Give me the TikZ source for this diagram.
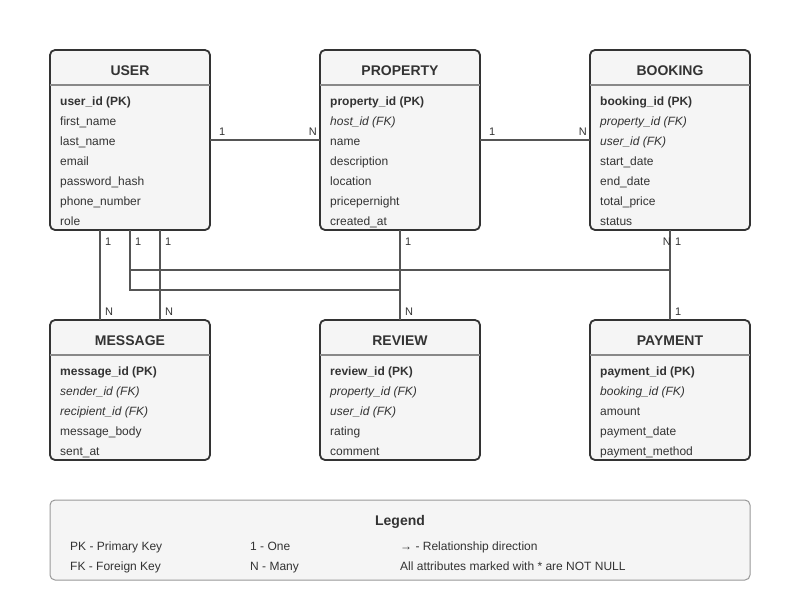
\documentclass[tikz,border=0pt]{standalone}
\usepackage{fontspec}
\setmainfont{Liberation Sans}
\definecolor{boxline}{HTML}{333333}
\definecolor{boxfill}{HTML}{F5F5F5}
\definecolor{sepline}{HTML}{888888}
\definecolor{txt}{HTML}{333333}
\definecolor{relline}{HTML}{555555}
\definecolor{legline}{HTML}{999999}
\newcommand{\erbox}[5]{%
  \node[ebox, minimum height=#4] (#1) at (#2,{#3+#4/2}) {};
  \node[etitle, anchor=base] (#1-t) at (#2,#3+25) {#5};
  \draw[esep] (#1.west |- 0,#3+35) -- (#1.east |- 0,#3+35);
}
\begin{document}
\begin{tikzpicture}[x=1pt,y=-1pt,
  ebox/.style={draw=boxline, line width=1.8pt, fill=boxfill, rounded corners=5pt,
    minimum width=160pt, inner sep=0pt, outer sep=0pt},
  etitle/.style={font=\fontsize{14}{16}\selectfont\bfseries, text=txt, inner sep=0pt},
  esep/.style={draw=sepline, line width=1.8pt},
  attr/.style={font=\fontsize{12}{14}\selectfont, text=txt, anchor=base west, inner sep=0pt},
  card/.style={font=\fontsize{11}{13}\selectfont, text=txt, inner sep=0pt},
  rel/.style={draw=relline, line width=1.5pt},
  legbox/.style={draw=legline, line width=1pt, fill=boxfill, rounded corners=5pt,
    minimum width=700pt, minimum height=80pt, inner sep=0pt, outer sep=0pt},
  legtxt/.style={font=\fontsize{12}{14}\selectfont, text=txt, anchor=base west, inner sep=0pt}
]
\useasboundingbox (0,0) rectangle (800,600);
\fill[white] (0,0) rectangle (800,600);

% boxes
\erbox{user}{130}{50}{180}{USER}
\erbox{property}{400}{50}{180}{PROPERTY}
\erbox{booking}{670}{50}{180}{BOOKING}
\erbox{message}{130}{320}{140}{MESSAGE}
\erbox{review}{400}{320}{140}{REVIEW}
\erbox{payment}{670}{320}{140}{PAYMENT}

% connectors
\draw[rel] (user.east) -- (property.west);
\draw[rel] (property.east) -- (booking.west);
\draw[rel] ([xshift=-30pt]user.south) -- ([xshift=-30pt]message.north);
\draw[rel] ([xshift=30pt]user.south) -- ([xshift=30pt]message.north);
\draw[rel] (user.south) -- ++(0,40) -| (booking.south);
\draw[rel] (user.south) -- ++(0,60) -| (review.north);
\draw[rel] (property.south) -- (review.north);
\draw[rel] (booking.south) -- (payment.north);

% cardinalities
\node[card, anchor=base west] (c1) at (219,135) {1};
\node[card, anchor=base east] (c2) at (317,135) {N};
\node[card, anchor=base west] (c3) at (489,135) {1};
\node[card, anchor=base east] (c4) at (587,135) {N};
\node[card, anchor=base west] (c5) at (105,245) {1};
\node[card, anchor=base west] (c6) at (135,245) {1};
\node[card, anchor=base west] (c7) at (165,245) {1};
\node[card, anchor=base west] (c8) at (405,245) {1};
\node[card, anchor=base east] (c9) at (671,245) {N};
\node[card, anchor=base west] (c10) at (675,245) {1};
\node[card, anchor=base west] (c11) at (105,315) {N};
\node[card, anchor=base west] (c12) at (165,315) {N};
\node[card, anchor=base west] (c13) at (405,315) {N};
\node[card, anchor=base west] (c14) at (675,315) {1};

% attributes
\foreach \t [count=\i] in {{\textbf{user\_id (PK)}}, first\_name, last\_name, email, password\_hash, phone\_number, role}
  \node[attr] (user-a\i) at (60,{105+20*(\i-1)}) {\t};
\foreach \t [count=\i] in {{\textbf{property\_id (PK)}}, {\textit{host\_id (FK)}}, name, description, location, pricepernight, created\_at}
  \node[attr] (property-a\i) at (330,{105+20*(\i-1)}) {\t};
\foreach \t [count=\i] in {{\textbf{booking\_id (PK)}}, {\textit{property\_id (FK)}}, {\textit{user\_id (FK)}}, start\_date, end\_date, total\_price, status}
  \node[attr] (booking-a\i) at (600,{105+20*(\i-1)}) {\t};
\foreach \t [count=\i] in {{\textbf{message\_id (PK)}}, {\textit{sender\_id (FK)}}, {\textit{recipient\_id (FK)}}, message\_body, sent\_at}
  \node[attr] (message-a\i) at (60,{375+20*(\i-1)}) {\t};
\foreach \t [count=\i] in {{\textbf{review\_id (PK)}}, {\textit{property\_id (FK)}}, {\textit{user\_id (FK)}}, rating, comment}
  \node[attr] (review-a\i) at (330,{375+20*(\i-1)}) {\t};
\foreach \t [count=\i] in {{\textbf{payment\_id (PK)}}, {\textit{booking\_id (FK)}}, amount, payment\_date, payment\_method}
  \node[attr] (payment-a\i) at (600,{375+20*(\i-1)}) {\t};

% legend
\node[legbox] (legend) at (400,540) {};
\node[etitle, anchor=base] (legend-t) at (400,525) {Legend};
\node[legtxt] (l1) at (70,550) {PK - Primary Key};
\node[legtxt] (l2) at (70,570) {FK - Foreign Key};
\node[legtxt] (l3) at (250,550) {1 - One};
\node[legtxt] (l4) at (250,570) {N - Many};
\node[legtxt] (l5) at (400,550) {→ - Relationship direction};
\node[legtxt] (l6) at (400,570) {All attributes marked with * are NOT NULL};
\end{tikzpicture}
\end{document}
